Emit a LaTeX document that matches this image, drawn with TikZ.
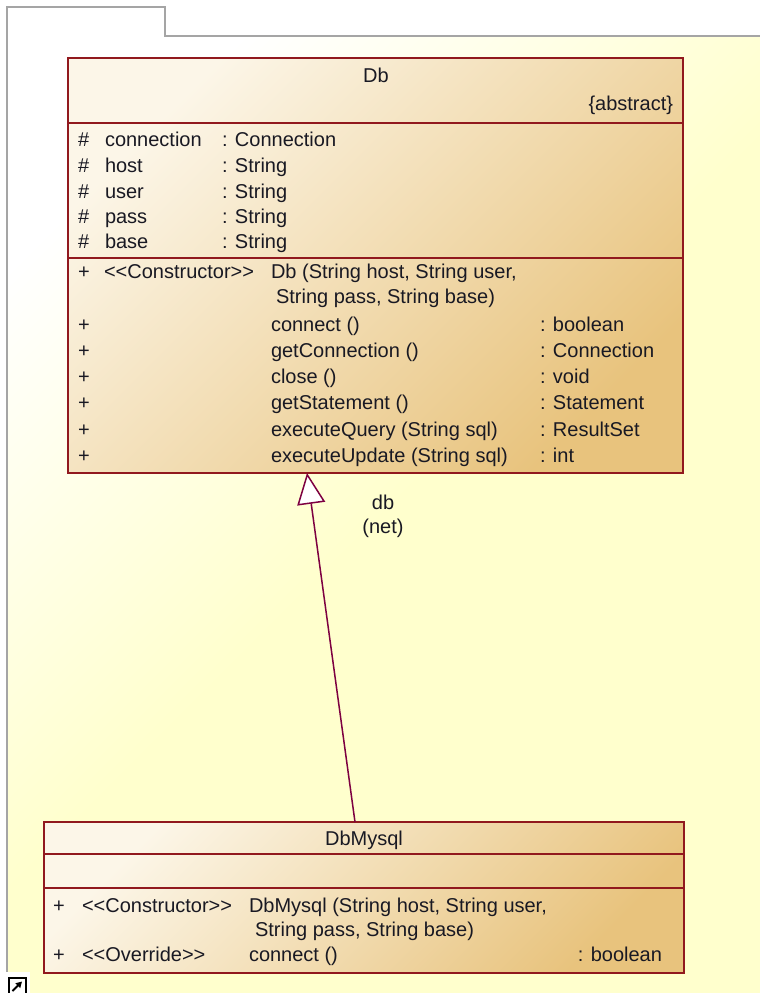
\documentclass[tikz,border=0pt]{standalone}
\usepackage{fontspec}
\setmainfont{Liberation Sans}
\usetikzlibrary{arrows.meta}
\definecolor{frameline}{RGB}{165,165,165}
\definecolor{frameyel}{RGB}{255,255,205}
\definecolor{clslight}{RGB}{252,246,232}
\definecolor{clsdark}{RGB}{232,195,125}
\definecolor{clsline}{RGB}{145,25,30}
\definecolor{genline}{RGB}{125,0,65}
\definecolor{txt}{RGB}{25,25,35}
\begin{document}
\begin{tikzpicture}[x=1pt,y=-1pt,
  every node/.style={inner sep=0pt, outer sep=0pt, text=txt, font=\fontsize{20}{24}\selectfont},
  lt/.style={anchor=base west},
  rt/.style={anchor=base east},
  ct/.style={anchor=base},
  classbox/.style={draw=clsline, line width=1.4pt, top color=clslight, bottom color=clsdark, shading angle=45, anchor=north west},
  sep/.style={draw=clsline, line width=1.4pt}]
\useasboundingbox (0,0) rectangle (760,993);
% package frame
\path[draw=frameline, line width=1.2pt, top color=white, bottom color=frameyel, middle color=frameyel, shading angle=45]
  (7,1010) -- (7,7) -- (165,7) -- (165,36) -- (775,36) -- (775,1010);
% Db class
\node[classbox, minimum width=615pt, minimum height=415pt] (db) at (68,58) {};
\draw[sep] (68,123) -- (683,123);
\draw[sep] (68,258) -- (683,258);
\node[ct] (dbname) at (376,82) {Db};
\node[rt] (dbabs) at (673,110) {\{abstract\}};
% attributes
\foreach \n/\t/\y in {connection/Connection/146, host/String/172, user/String/198, pass/String/223, base/String/248}{
  \node[lt] at (78,\y) {\#};
  \node[lt] at (105,\y) {\n};
  \node[lt] at (222,\y) {: \t};
}
% operations
\node[lt] (dbc1) at (78,278) {+};
\node[lt] (dbc2) at (104,278) {<{}<Constructor>{}>};
\node[lt] (dbc3) at (271,278) {Db (String host, String user,};
\node[lt] (dbc4) at (276,303) {String pass, String base)};
\foreach \m/\r/\y in {connect ()/boolean/331, getConnection ()/Connection/357, close ()/void/383, getStatement ()/Statement/409, executeQuery (String sql)/ResultSet/436, executeUpdate (String sql)/int/462}{
  \node[lt] at (78,\y) {+};
  \node[lt] at (271,\y) {\m};
  \node[lt] at (540,\y) {: \r};
}
% DbMysql class
\node[classbox, minimum width=640pt, minimum height=151pt] (mysql) at (44,822) {};
\draw[sep] (44,854) -- (684,854);
\draw[sep] (44,888) -- (684,888);
\node[ct] (myname) at (364,845) {DbMysql};
\node[lt] (m1) at (53,912) {+};
\node[lt] (m2) at (82,912) {<{}<Constructor>{}>};
\node[lt] (m3) at (249,912) {DbMysql (String host, String user,};
\node[lt] (m4) at (255,936) {String pass, String base)};
\node[lt] (m5) at (53,961) {+};
\node[lt] (m6) at (82,961) {<{}<Override>{}>};
\node[lt] (m7) at (249,961) {connect ()};
\node[rt] (m8) at (662,961) {: boolean};
% generalization
\draw[genline, line width=1.5pt, -{Triangle[open, length=31pt, width=28pt, fill=white]}]
  ([xshift=-9pt]mysql.north) -- ([xshift=-68.5pt]db.south);
\node[ct] (lab1) at (383,509) {db};
\node[ct] (lab2) at (383,533) {(net)};
% shortcut icon
\fill[white] (0,972) rectangle (30,993);
\draw[black, line width=1.3pt] (9,978) rectangle (26,995);
\draw[black, line width=1.8pt, -{Triangle[length=6pt, width=6.5pt]}] (12.5,991) -- (22,981.5);
\end{tikzpicture}
\end{document}
